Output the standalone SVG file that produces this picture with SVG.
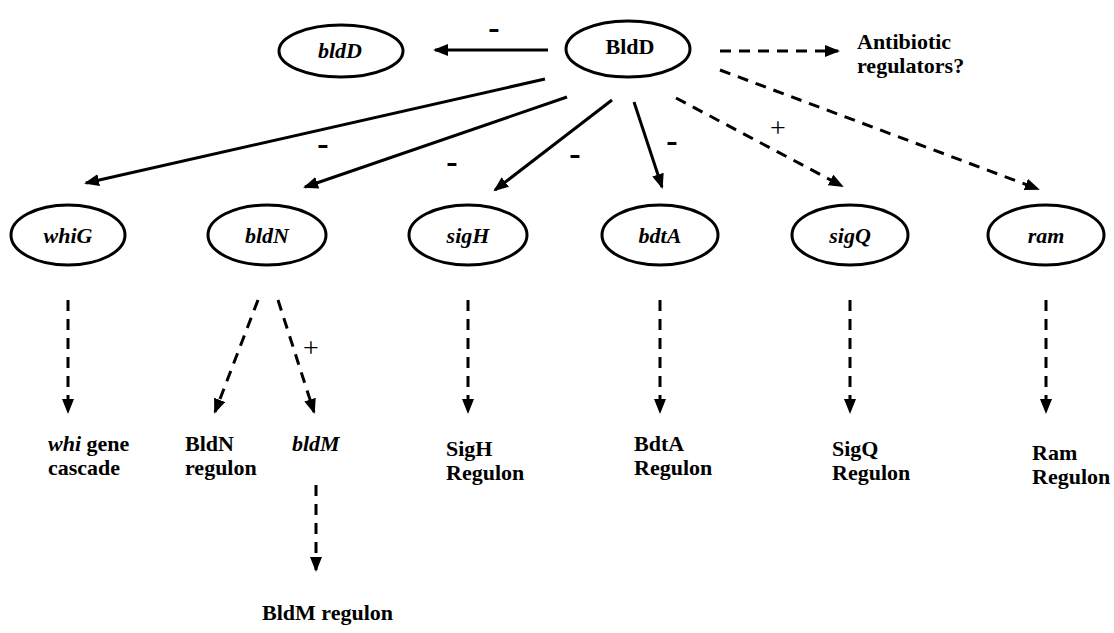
<svg xmlns="http://www.w3.org/2000/svg" width="1114" height="633" viewBox="0 0 1114 633">
  <defs>
    <marker id="arrow" markerUnits="userSpaceOnUse" markerWidth="16" markerHeight="12" refX="13" refY="6" orient="auto">
      <path d="M0,0 L15,6 L0,12 z" fill="#000"/>
    </marker>
    <style>
      .node { fill: #fff; stroke: #000; stroke-width: 3; }
      .lbl { font-family: "Liberation Serif", "Times New Roman", serif; font-weight: bold; font-size: 22px; fill: #000; }
      .it { font-style: italic; }
      .mid { text-anchor: middle; dominant-baseline: central; }
      .solid { stroke: #000; stroke-width: 3; fill: none; marker-end: url(#arrow); }
      .dash { stroke: #000; stroke-width: 3; fill: none; stroke-dasharray: 11 8; marker-end: url(#arrow); }
      .minus { font-family: "Liberation Serif", "Times New Roman", serif; font-size: 34px; font-weight: bold; fill: #000; text-anchor: middle; }
      .plus { font-family: "Liberation Serif", "Times New Roman", serif; font-size: 28px; fill: #000; text-anchor: middle; }
    </style>
  </defs>
  <rect width="1114" height="633" fill="#fff"/>

  <!-- connectors -->
  <g id="connectors">
    <line class="solid" x1="548" y1="50" x2="435" y2="50"/>
    <line class="dash" x1="720" y1="51" x2="838" y2="51"/>
    <line class="solid" x1="545" y1="79" x2="86" y2="183"/>
    <line class="solid" x1="567" y1="97" x2="305" y2="187"/>
    <line class="solid" x1="612" y1="100" x2="495" y2="190"/>
    <line class="solid" x1="634" y1="102" x2="662" y2="187"/>
    <line class="dash" x1="676" y1="98" x2="842" y2="186"/>
    <line class="dash" x1="720" y1="70" x2="1038" y2="189"/>
    <line class="dash" x1="68" y1="300" x2="68" y2="412"/>
    <line class="dash" x1="258" y1="300" x2="215" y2="412"/>
    <line class="dash" x1="278" y1="300" x2="314" y2="412"/>
    <line class="dash" x1="468" y1="300" x2="468" y2="412"/>
    <line class="dash" x1="660" y1="300" x2="660" y2="412"/>
    <line class="dash" x1="850" y1="300" x2="850" y2="412"/>
    <line class="dash" x1="1046" y1="300" x2="1046" y2="412"/>
    <line class="dash" x1="316" y1="485" x2="316" y2="570"/>
    <!-- effect signs -->
    <text class="minus" x="494" y="39">-</text>
    <text class="minus" x="323" y="155">-</text>
    <text class="minus" x="452" y="173">-</text>
    <text class="minus" x="575" y="165">-</text>
    <text class="minus" x="672" y="152">-</text>
    <text class="plus" x="778" y="137">+</text>
    <text class="plus" x="311" y="357">+</text>
  </g>

  <g id="BldD">
    <ellipse class="node" cx="628" cy="49" rx="62" ry="28"/>
    <text class="lbl mid" x="630" y="46">BldD</text>
  </g>
  <g id="bldD">
    <ellipse class="node" cx="341" cy="51" rx="62" ry="26"/>
    <text class="lbl it mid" x="340" y="50">bldD</text>
  </g>
  <g id="antibiotic">
    <text class="lbl" x="857" y="49">Antibiotic</text>
    <text class="lbl" x="857" y="73">regulators?</text>
  </g>

  <g id="whiG">
    <ellipse class="node" cx="68" cy="235" rx="57" ry="30"/>
    <text class="lbl it mid" x="68" y="235">whiG</text>
  </g>
  <g id="bldN">
    <ellipse class="node" cx="267" cy="235" rx="59" ry="30"/>
    <text class="lbl it mid" x="267" y="235">bldN</text>
  </g>
  <g id="sigH">
    <ellipse class="node" cx="468" cy="235" rx="59" ry="30"/>
    <text class="lbl it mid" x="468" y="235">sigH</text>
  </g>
  <g id="bdtA">
    <ellipse class="node" cx="660" cy="235" rx="58" ry="30"/>
    <text class="lbl it mid" x="660" y="235">bdtA</text>
  </g>
  <g id="sigQ">
    <ellipse class="node" cx="850" cy="235" rx="58" ry="30"/>
    <text class="lbl it mid" x="850" y="235">sigQ</text>
  </g>
  <g id="ram">
    <ellipse class="node" cx="1046" cy="235" rx="58" ry="30"/>
    <text class="lbl it mid" x="1046" y="235">ram</text>
  </g>

  <g id="whi-cascade">
    <text class="lbl" x="48" y="451"><tspan class="it">whi</tspan> gene</text>
    <text class="lbl" x="48" y="475">cascade</text>
  </g>
  <g id="bldN-regulon">
    <text class="lbl" x="185" y="451">BldN</text>
    <text class="lbl" x="185" y="475">regulon</text>
  </g>
  <g id="bldM">
    <text class="lbl it" x="292" y="451">bldM</text>
  </g>
  <g id="bldM-regulon">
    <text class="lbl" x="262" y="620">BldM regulon</text>
  </g>
  <g id="sigH-regulon">
    <text class="lbl" x="446" y="456">SigH</text>
    <text class="lbl" x="446" y="480">Regulon</text>
  </g>
  <g id="bdtA-regulon">
    <text class="lbl" x="634" y="451">BdtA</text>
    <text class="lbl" x="634" y="475">Regulon</text>
  </g>
  <g id="sigQ-regulon">
    <text class="lbl" x="832" y="456">SigQ</text>
    <text class="lbl" x="832" y="480">Regulon</text>
  </g>
  <g id="ram-regulon">
    <text class="lbl" x="1032" y="460">Ram</text>
    <text class="lbl" x="1032" y="484">Regulon</text>
  </g>
</svg>
